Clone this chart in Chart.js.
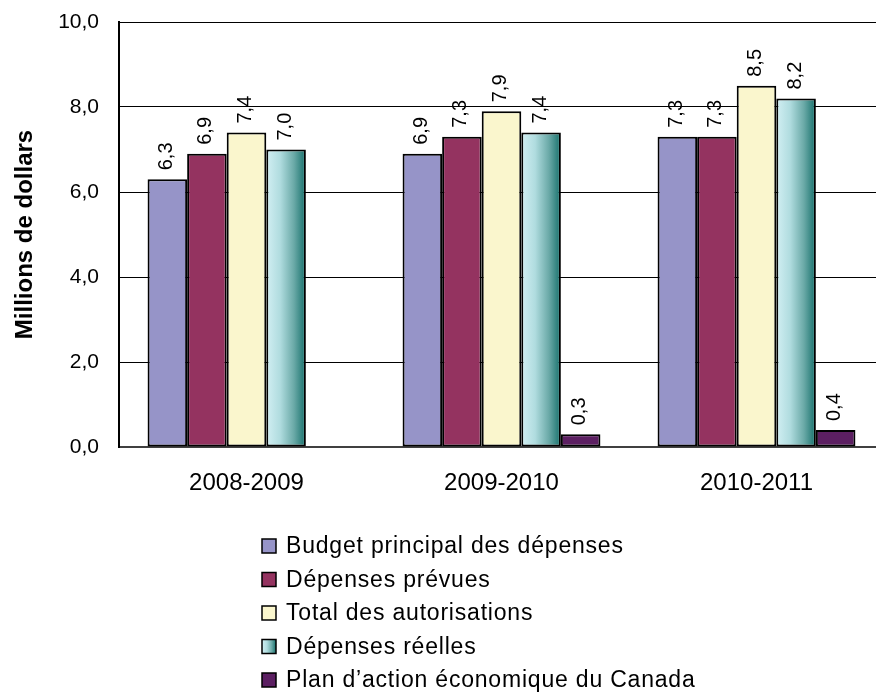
<!DOCTYPE html>
<html>
<head>
<meta charset="utf-8">
<script src="https://cdn.jsdelivr.net/npm/chart.js@4.4.1/dist/chart.umd.min.js"></script>
<style>
html, body { margin: 0; padding: 0; background: #fff; overflow: hidden; }
#wrap { width: 886px; height: 693px; }
</style>
</head>
<body>
<div id="wrap"><canvas id="budgetChart" width="886" height="693"></canvas></div>
<script>
// data
const years = ['2008-2009', '2009-2010', '2010-2011'];
const seriesNames = [
    'Budget principal des dépenses',
    'Dépenses prévues',
    'Total des autorisations',
    'Dépenses réelles',
    'Plan d\u2019action économique du Canada'
];
const budgetPrincipal = [6.3, 6.9, 7.3];
const depensesPrevues = [6.9, 7.3, 7.3];
const totalAutorisations = [7.4, 7.9, 8.5];
const depensesReelles = [7.0, 7.4, 8.2];
const planAction = [null, 0.3, 0.4];
const yTicks = [0, 2, 4, 6, 8, 10];

const CAT_PCT = 0.776;
const FONT = "'Liberation Sans', Arial, sans-serif";
Chart.defaults.font.family = FONT;
Chart.defaults.color = '#000';

const fmt = v => v.toFixed(1).replace('.', ',');

function tealGradient(c, left, width) {
    const g = c.createLinearGradient(left, 0, left + width, 0);
    g.addColorStop(0, '#d2eff3');
    g.addColorStop(0.35, '#b0dcdf');
    g.addColorStop(0.7, '#6aa9a7');
    g.addColorStop(1, '#16706b');
    return g;
}

function tealFill(ctx) {
    const chart = ctx.chart;
    const x = chart.scales && chart.scales.x;
    if (!x || ctx.dataIndex === undefined || !isFinite(x.width)) return '#8cc8c8';
    const catW = x.width / years.length;
    const groupW = catW * CAT_PCT;
    const barW = groupW / seriesNames.length;
    const left = x.getPixelForValue(ctx.dataIndex) - groupW / 2 + barW * ctx.datasetIndex;
    return tealGradient(chart.ctx, left, barW);
}

const fills = ['#9694c8', '#943360', '#faf6cd', tealFill, '#5c1f62'];
const swatch = ['#9694c8', '#943360', '#faf6cd', null, '#5c1f62'];
const values = [budgetPrincipal, depensesPrevues, totalAutorisations, depensesReelles, planAction];

// rotated value labels above each bar
const valueLabels = {
    id: 'valueLabels',
    afterDatasetsDraw(chart) {
        const c = chart.ctx;
        c.save();
        c.font = '20px ' + FONT;
        c.fillStyle = '#000';
        c.textAlign = 'left';
        c.textBaseline = 'middle';
        chart.data.datasets.forEach((ds, i) => {
            chart.getDatasetMeta(i).data.forEach((bar, j) => {
                const v = ds.data[j];
                if (v === null || v === undefined) return;
                c.save();
                c.translate(bar.x - 1, bar.y - 9);
                c.rotate(-Math.PI / 2);
                c.fillText(fmt(v), 0, 0);
                c.restore();
            });
        });
        c.restore();
    }
};

// vertical legend under the plot
const sideLegend = {
    id: 'sideLegend',
    afterDraw(chart) {
        const c = chart.ctx;
        c.save();
        c.font = '23px ' + FONT;
        c.letterSpacing = '0.8px';
        c.textAlign = 'left';
        c.textBaseline = 'middle';
        seriesNames.forEach((name, i) => {
            const y = 546 + i * 33.5;
            const bx = 262, by = y - 7, bs = 14;
            c.fillStyle = swatch[i] || tealGradient(c, bx, bs);
            c.fillRect(bx, by, bs, bs);
            c.lineWidth = 1.5;
            c.strokeStyle = '#000';
            c.strokeRect(bx, by, bs, bs);
            c.fillStyle = '#000';
            c.fillText(name, 286, y + 1);
        });
        c.letterSpacing = '0px';
        c.restore();
    }
};

new Chart(document.getElementById('budgetChart'), {
    type: 'bar',
    data: {
        labels: years,
        datasets: seriesNames.map((name, i) => ({
            label: name,
            data: values[i],
            backgroundColor: fills[i],
            borderColor: '#000',
            borderWidth: 2,
            borderSkipped: false,
            categoryPercentage: CAT_PCT,
            barPercentage: 1
        }))
    },
    options: {
        responsive: false,
        animation: false,
        layout: { padding: { top: 22, right: 2, bottom: 186, left: 0 } },
        plugins: {
            legend: { display: false },
            tooltip: { enabled: false }
        },
        scales: {
            x: {
                grid: { display: false },
                border: { color: '#404040', width: 2 },
                ticks: { font: { size: 24 }, color: '#000', padding: 14 },
                afterFit(s) { s.height = 60; s.paddingLeft = 0; s.paddingRight = 0; }
            },
            y: {
                min: 0,
                max: 10,
                afterBuildTicks(s) { s.ticks = yTicks.map(v => ({ value: v })); },
                ticks: { font: { size: 21 }, color: '#000', padding: 20, callback: v => fmt(v) },
                grid: { color: '#000', lineWidth: 1, drawTicks: false },
                border: { color: '#000', width: 2 },
                title: {
                    display: true,
                    text: 'Millions de dollars',
                    font: { size: 24, weight: 'bold' },
                    color: '#000',
                    padding: { top: 11 }
                },
                afterFit(s) { s.width = 119; s.paddingTop = 0; s.paddingBottom = 0; }
            }
        }
    },
    plugins: [valueLabels, sideLegend]
});
</script>
</body>
</html>
